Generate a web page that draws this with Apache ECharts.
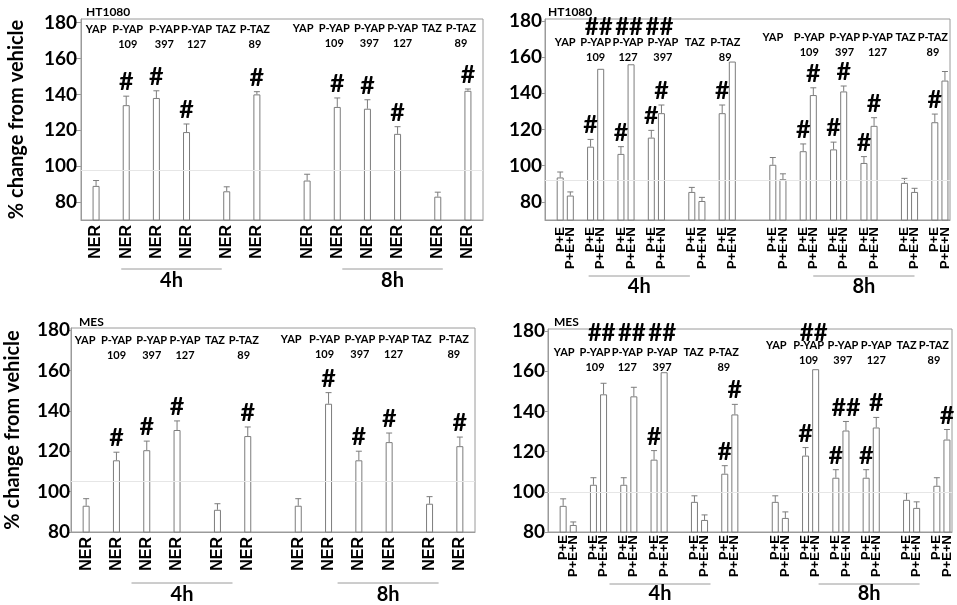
<!DOCTYPE html>
<html>
<head>
<meta charset="utf-8">
<script src="https://cdn.jsdelivr.net/npm/echarts@6/dist/echarts.min.js"></script>
<style>
html, body { margin: 0; padding: 0; background: #fff; }
#chart { width: 957px; height: 605px; }
</style>
</head>
<body>
<div id="chart"></div>
<script>
// ---- data ----
var timepoints = ['4h', '8h'];
var targetsA = ['YAP', 'P-YAP\n109', 'P-YAP\n397', 'P-YAP\n127', 'TAZ', 'P-TAZ\n89'];
var targetsB = ['YAP', 'P-YAP\n109', 'P-YAP\n127', 'P-YAP\n397', 'TAZ', 'P-TAZ\n89'];
var condNER = ['NER'];
var condPEN = ['P+E', 'P+E+N'];
var yTicks = [80, 100, 120, 140, 160, 180];
var yTitle = '% change from vehicle';

// HT1080, NER (4h then 8h, target order targetsA)
var htNerMean = [89, 134, 138, 119, 86, 140, 92, 133, 132, 118, 83, 142];
var htNerErr = [92, 139, 142, 123.5, 88.5, 141.5, 95.5, 138, 137, 122, 85.5, 143];
var htNerSig = ['', '#', '#', '#', '', '#', '', '#', '#', '#', '', '#'];

// HT1080, P+E / P+E+N pairs (4h targetsB, 8h targetsA)
var htPenMean = [93.5, 83.5, 110.5, 153.5, 106.5, 156, 115.5, 129, 85.5, 80.5, 129, 157.5,
                 100.5, 92.5, 108, 139, 109, 141, 101.5, 122, 90.5, 85.5, 124, 147];
var htPenErr = [96.5, 85.5, 114.5, null, 110.5, null, 119.5, 133.5, 88, 82.5, 133.5, null,
                104.5, 95.5, 112, 143, 113, 144, 105, 126.5, 93, 87.5, 128.5, 152];
var htPenSig = ['', '', '#', '', '#', '', '#', '#', '', '', '#', '',
                '', '', '#', '#', '#', '#', '#', '#', '', '', '#', ''];
var htPenGroupSig = ['', '##', '##', '##', '', '', '', '', '', '', '', ''];

// MES, NER
var mesNerMean = [93, 115.5, 120.5, 130.5, 91, 127.5, 93, 143.5, 115.5, 124.5, 94, 122.5];
var mesNerErr = [96.5, 119.5, 125, 135, 94, 132, 96.5, 149, 120, 129, 97.5, 127];
var mesNerSig = ['', '#', '#', '#', '', '#', '', '#', '#', '#', '', '#'];

// MES, P+E / P+E+N pairs
var mesPenMean = [93, 83.5, 103.5, 148.5, 103.5, 147.5, 116, 159.5, 95, 86, 109, 138.5,
                  95, 87, 118, 161, 107, 130.5, 107, 132, 96, 92, 103, 126];
var mesPenErr = [96.5, 85, 107, 154, 107, 152, 120.5, null, 98, 88.5, 113, 143.5,
                 98, 90, 122, null, 111, 135, 111, 137, 99.5, 95, 107, 131];
var mesPenSig = ['', '', '', '', '', '', '#', '', '', '', '#', '#',
                 '', '', '#', '', '#', '##', '#', '#', '', '', '', '#'];
var mesPenGroupSig = ['', '##', '##', '##', '', '', '', '##', '', '', '', ''];

// faint horizontal line visible in each panel
var refLines = [97.5, 92, 105, 100];

// ---- layout ----
var FONT = 'Lato';
var FRAME = '#9a9a9a';
var BAR = '#7c7c7c';

var panels = [
  { title: 'HT1080', targets: [targetsA, targetsA], conds: condNER, mean: htNerMean, err: htNerErr,
    sig: htNerSig, groupSig: null, yMin: 70, yMax: 182, showName: true,
    L: { left: 81, top: 19, width: 402, height: 201, titleX: 81, titleY: 1, xFont: 16, xMargin: 5,
         tickLen: 7, yMargin: 4, nameGap: 54, labelY: [10, 9], groupSigY: 0, sigGap: 14,
         labelDx: [0, 1.5, 8, 10, -1, -2, -4, -3, 2, 5, -6, -7],
         underY: 49, tpY: 61, underDx: [-10, 0] } },
  { title: 'HT1080', targets: [targetsB, targetsA], conds: condPEN, mean: htPenMean, err: htPenErr,
    sig: htPenSig, groupSig: htPenGroupSig, yMin: 70, yMax: 181, showName: false,
    L: { left: 545, top: 19, width: 405, height: 201, titleX: 543, titleY: 1, xFont: 13, xMargin: 7,
         tickLen: 3, yMargin: 3, nameGap: 0, labelY: [23, 18], groupSigY: 8, sigGap: 14,
         labelDx: [0, 0, 2, 6.5, -2, -2, -5, 1, 6, 8.5, -4, -7],
         underY: 56, tpY: 67, underDx: [-7, 5] } },
  { title: 'MES', targets: [targetsA, targetsA], conds: condNER, mean: mesNerMean, err: mesNerErr,
    sig: mesNerSig, groupSig: null, yMin: 80, yMax: 181, showName: true,
    L: { left: 71, top: 328, width: 404, height: 204, titleX: 74, titleY: 311, xFont: 16, xMargin: 5,
         tickLen: 3, yMargin: 1, nameGap: 48, labelY: [12, 11], groupSigY: 0, sigGap: 14,
         labelDx: [-1, 0, 5, 8, -2.5, -4, -7, -4, 1, 4.5, -8, -6],
         underY: 51, tpY: 63, underDx: [10, 4] } },
  { title: 'MES', targets: [targetsB, targetsA], conds: condPEN, mean: mesPenMean, err: mesPenErr,
    sig: mesPenSig, groupSig: mesPenGroupSig, yMin: 80, yMax: 181, showName: false,
    L: { left: 548, top: 329, width: 404, height: 203, titleX: 549, titleY: 311, xFont: 13, xMargin: 3,
         tickLen: 3, yMargin: 3, nameGap: 0, labelY: [23, 16], groupSigY: 4, sigGap: 14,
         labelDx: [-4, -3.5, -1.5, 3, -6, -6, -4, -2, 2, 5, -5, -8],
         underY: 52, tpY: 62, underDx: [11, 8] } }
];

function pad(arr, n) { for (var i = 0; i < n; i++) arr.push(''); }

// slot layout: one leading spacer, 2 slots per target, 1 spacer between targets,
// one more before the TAZ block, 3 between time points
function buildSlots(targetsByTime, conds) {
  var labels = [''];
  var bars = [];
  var groups = [];
  targetsByTime.forEach(function (targets, t) {
    if (t > 0) pad(labels, 3);
    targets.forEach(function (name, g) {
      if (g > 0) {
        var tazStart = name.indexOf('TAZ') >= 0 && targets[g - 1].indexOf('TAZ') < 0;
        pad(labels, tazStart ? 2 : 1);
      }
      var first = labels.length;
      conds.forEach(function (c) { bars.push(labels.length); labels.push(c); });
      pad(labels, 2 - conds.length);
      groups.push({ first: first, name: name, time: t, index: g });
    });
  });
  return { labels: labels, bars: bars, groups: groups };
}

function seg(x1, y1, x2, y2, color) {
  return { type: 'line', shape: { x1: x1, y1: y1, x2: x2, y2: y2 }, style: { stroke: color, lineWidth: 1 } };
}
function txt(x, y, s, font) {
  return { type: 'text', x: x, y: y,
    style: { text: s, font: font, fill: '#000', textAlign: 'center', textVerticalAlign: 'middle' } };
}

var option = { animation: false, title: [], grid: [], xAxis: [], yAxis: [], series: [] };

panels.forEach(function (p, k) {
  var s = buildSlots(p.targets, p.conds);
  var L = p.L;
  var dual = p.conds.length > 1;

  option.title.push({ text: p.title, left: L.titleX, top: L.titleY,
    textStyle: { fontFamily: FONT, fontWeight: 'bold', fontSize: 12, color: '#000' } });
  option.grid.push({ left: L.left, top: L.top, width: L.width, height: L.height,
    show: true, borderColor: FRAME, borderWidth: 1 });
  option.xAxis.push({ type: 'category', gridIndex: k, data: s.labels,
    axisLine: { lineStyle: { color: FRAME } }, axisTick: { show: false },
    axisLabel: { interval: 0, rotate: 90, margin: L.xMargin, color: '#000',
      fontFamily: 'Liberation Sans', fontWeight: 'bold', fontSize: L.xFont } });
  option.yAxis.push({ type: 'value', gridIndex: k, min: p.yMin, max: p.yMax, interval: 10,
    splitLine: { show: false },
    axisLine: { show: true, lineStyle: { color: FRAME } },
    axisTick: { show: true, length: L.tickLen, customValues: yTicks, lineStyle: { color: FRAME } },
    axisLabel: { customValues: yTicks, margin: L.yMargin, color: '#000',
      fontFamily: FONT, fontWeight: 'bold', fontSize: 19,
      formatter: function (v) { return yTicks.indexOf(v) >= 0 ? String(v) : ''; } },
    name: p.showName ? yTitle : '', nameLocation: 'middle', nameGap: L.nameGap,
    nameTextStyle: { fontFamily: FONT, fontWeight: 'bold', fontSize: 20, color: '#000' } });

  var barData = s.labels.map(function () { return null; });
  s.bars.forEach(function (slot, i) { barData[slot] = p.mean[i]; });
  option.series.push({ type: 'bar', xAxisIndex: k, yAxisIndex: k, data: barData, barWidth: 7,
    itemStyle: { color: '#fff', borderColor: BAR, borderWidth: 1 },
    markLine: { silent: true, symbol: 'none', label: { show: false },
      lineStyle: { color: '#e6e6e6', type: 'solid', width: 1 }, data: [{ yAxis: refLines[k] }] } });

  // error bars and significance marks
  option.series.push({ type: 'custom', xAxisIndex: k, yAxisIndex: k, z: 3,
    data: s.bars.map(function (slot, i) { return [slot, p.mean[i]]; }),
    renderItem: function (params, api) {
      var i = params.dataIndex;
      var x = api.value(0);
      var top = api.coord([x, p.mean[i]]);
      var kids = [];
      var yRef = top[1];
      if (p.err[i] != null) {
        var e = api.coord([x, p.err[i]]);
        kids.push(seg(top[0], top[1], e[0], e[1], BAR), seg(e[0] - 3, e[1], e[0] + 3, e[1], BAR));
        yRef = e[1];
      }
      if (p.sig[i]) kids.push(txt(top[0], yRef - L.sigGap, p.sig[i], 'bold 25px Lato'));
      return { type: 'group', children: kids };
    } });

  // target labels at the top of the plot
  option.series.push({ type: 'custom', xAxisIndex: k, yAxisIndex: k, z: 4,
    data: s.groups.map(function (gr) { return [gr.first, p.yMin]; }),
    renderItem: function (params, api) {
      var gi = params.dataIndex;
      var gr = s.groups[gi];
      var a = api.coord([gr.first, p.yMin]);
      var b = api.coord([gr.first + 1, p.yMin]);
      var cx = (dual ? (a[0] + b[0]) / 2 : a[0]) + L.labelDx[gi];
      var top = params.coordSys.y;
      var kids = gr.name.split('\n').map(function (t, j) {
        return txt(cx, top + L.labelY[gr.time] + j * 15, t, 'bold 11px Lato');
      });
      var gs = p.groupSig && p.groupSig[gi];
      if (gs) kids.push(txt(b[0] - 2, top + L.groupSigY, gs, 'bold 24px Lato'));
      return { type: 'group', children: kids };
    } });

  // time point brackets below the axis
  var byTime = timepoints.map(function (tp, t) {
    return s.groups.filter(function (gr) { return gr.time === t; });
  });
  option.series.push({ type: 'custom', xAxisIndex: k, yAxisIndex: k, z: 4,
    data: timepoints.map(function (tp, t) { return [byTime[t][1].first, p.yMin]; }),
    renderItem: function (params, api) {
      var t = params.dataIndex;
      var gs = byTime[t];
      var a1 = api.coord([gs[1].first, p.yMin])[0], a2 = api.coord([gs[1].first + 1, p.yMin])[0];
      var b1 = api.coord([gs[4].first, p.yMin])[0], b2 = api.coord([gs[4].first + 1, p.yMin])[0];
      var x1 = (a1 + a2) / 2 + L.underDx[t];
      var x2 = (b1 + b2) / 2 + L.underDx[t];
      var bottom = params.coordSys.y + params.coordSys.height;
      return { type: 'group', children: [
        seg(x1, bottom + L.underY, x2, bottom + L.underY, FRAME),
        txt((x1 + x2) / 2, bottom + L.tpY, timepoints[t], 'bold 20px Lato')
      ] };
    } });
});

var chart = echarts.init(document.getElementById('chart'));
chart.setOption(option);
window.addEventListener('resize', function () { chart.resize(); });
</script>
</body>
</html>
